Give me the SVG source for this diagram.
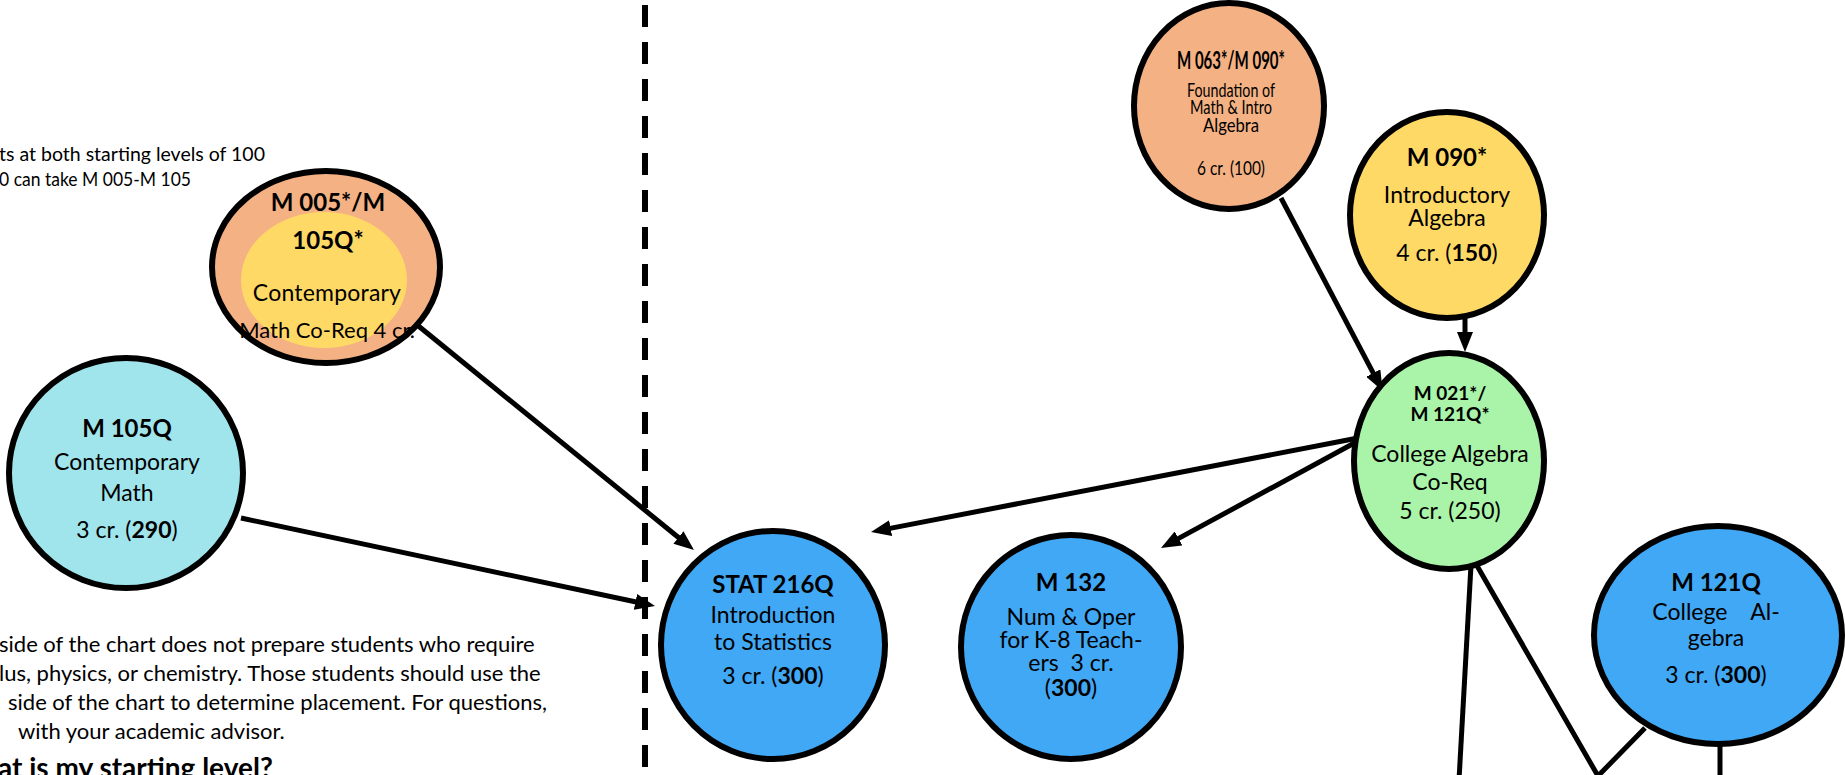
<svg xmlns="http://www.w3.org/2000/svg" width="1845" height="775" viewBox="0 0 1845 775">
<defs>
<style>
text{font-family:Lato,"Liberation Sans",sans-serif;fill:#000}
.node{stroke:#000;stroke-width:6}
.t{font-weight:bold;font-size:24px;text-anchor:middle}
.b{font-size:23px;text-anchor:middle}
.s{font-size:20px;text-anchor:middle}
.p{font-size:22px}
.conn{stroke:#000;stroke-width:5;fill:none}
.bold{font-weight:bold}
</style>
<marker id="ah" markerUnits="userSpaceOnUse" markerWidth="20" markerHeight="16" refX="2" refY="8" orient="auto">
<path d="M0,0 L20,8 L0,16 z" fill="#000"/>
</marker>
</defs>
<rect width="1845" height="775" fill="#fff"/>

<g id="notes">
<text class="p" x="265" y="161" text-anchor="end" style="font-size:18.5px" textLength="266" lengthAdjust="spacingAndGlyphs">ts at both starting levels of 100</text>
<text class="p" x="191" y="186" text-anchor="end" style="font-size:18.5px" textLength="192" lengthAdjust="spacingAndGlyphs">0 can take M 005-M 105</text>
<text class="p" x="-1" y="652">side of the chart does not prepare students who require</text>
<text class="p" x="-1" y="681">lus, physics, or chemistry. Those students should use the</text>
<text class="p" x="8" y="710">side of the chart to determine placement. For questions,</text>
<text class="p" x="18" y="739">with your academic advisor.</text>
<text class="p bold" x="-2" y="778" style="font-size:28px">at is my starting level?</text>
</g>

<line id="divider" x1="645" y1="0" x2="645" y2="775" stroke="#000" stroke-width="6" stroke-dasharray="22 15" stroke-dashoffset="32"/>

<g id="connectors">
<line class="conn" x1="416" y1="324" x2="680" y2="538.7" marker-end="url(#ah)"/>
<line class="conn" x1="241" y1="518" x2="637.4" y2="602.3" marker-end="url(#ah)"/>
<line class="conn" x1="1281" y1="198" x2="1374.2" y2="374.8" marker-end="url(#ah)"/>
<line class="conn" x1="1465" y1="316" x2="1465" y2="334" marker-end="url(#ah)"/>
<line class="conn" x1="1358" y1="438" x2="888.7" y2="528.6" marker-end="url(#ah)"/>
<line class="conn" x1="1358" y1="441" x2="1176.8" y2="539.4" marker-end="url(#ah)"/>
<line class="conn" x1="1471" y1="565" x2="1459" y2="780"/>
<polyline class="conn" points="1476,564 1598,776 1645,728"/>
<line class="conn" x1="1720" y1="743" x2="1720" y2="780"/>
</g>

<g id="n-m005">
<ellipse class="node" cx="326" cy="267" rx="114" ry="96" fill="#F4B183"/>
<ellipse cx="324" cy="280" rx="83" ry="68" fill="#FFD966"/>
<text class="t" x="328" y="211">M 005*/M</text>
<text class="t" x="328" y="249">105Q*</text>
<text class="b" x="327" y="301" letter-spacing="0.2">Contemporary</text>
<text class="b" x="327" y="338" style="font-size:22px">Math Co-Req 4 cr.</text>
</g>

<g id="n-m105q">
<ellipse class="node" cx="126" cy="473" rx="117" ry="115" fill="#A0E5EC"/>
<text class="t" x="127" y="437">M 105Q</text>
<text class="b" x="127" y="470">Contemporary</text>
<text class="b" x="127" y="501">Math</text>
<text class="b" x="127" y="538">3 cr. (<tspan class="bold">290</tspan>)</text>
</g>

<g id="n-stat216q">
<ellipse class="node" cx="773" cy="645" rx="112" ry="114" fill="#41A8F5"/>
<text class="t" x="773" y="593">STAT 216Q</text>
<text class="b" x="773" y="623">Introduction</text>
<text class="b" x="773" y="650">to Statistics</text>
<text class="b" x="773" y="684">3 cr. (<tspan class="bold">300</tspan>)</text>
</g>

<g id="n-m132">
<ellipse class="node" cx="1071" cy="647" rx="110" ry="112" fill="#41A8F5"/>
<text class="t" x="1071" y="591">M 132</text>
<text class="b" x="1071" y="625">Num &amp; Oper</text>
<text class="b" x="1071" y="648">for K-8 Teach-</text>
<text class="b" x="1071" y="671">ers&#160; 3 cr.</text>
<text class="b" x="1071" y="696">(<tspan class="bold">300</tspan>)</text>
</g>

<g id="n-m021">
<ellipse class="node" cx="1449" cy="461" rx="95" ry="108" fill="#AAF4AA"/>
<text class="t" x="1450" y="400" style="font-size:19px">M 021*/</text>
<text class="t" x="1450" y="421" style="font-size:19px">M 121Q*</text>
<text class="b" x="1450" y="462">College Algebra</text>
<text class="b" x="1450" y="490">Co-Req</text>
<text class="b" x="1450" y="519">5 cr. (250)</text>
</g>

<g id="n-m121q">
<ellipse class="node" cx="1718" cy="635" rx="124" ry="109" fill="#41A8F5"/>
<text class="t" x="1716" y="591">M 121Q</text>
<text class="b" x="1716" y="620">College&#160;&#160;&#160; Al-</text>
<text class="b" x="1716" y="646">gebra</text>
<text class="b" x="1716" y="683">3 cr. (<tspan class="bold">300</tspan>)</text>
</g>

<g id="n-m090">
<ellipse class="node" cx="1447" cy="215" rx="97" ry="103" fill="#FFD966"/>
<text class="t" x="1447" y="166">M 090*</text>
<text class="b" x="1447" y="203">Introductory</text>
<text class="b" x="1447" y="226">Algebra</text>
<text class="b" x="1447" y="261">4 cr. (<tspan class="bold">150</tspan>)</text>
</g>

<g id="n-m063">
<ellipse class="node" cx="1229" cy="106" rx="95" ry="103" fill="#F4B183"/>
<text class="t" x="1231" y="69" textLength="108" lengthAdjust="spacingAndGlyphs">M 063*/M 090*</text>
<text class="s" x="1231" y="97" textLength="88" lengthAdjust="spacingAndGlyphs">Foundation of</text>
<text class="s" x="1231" y="114" textLength="82" lengthAdjust="spacingAndGlyphs">Math &amp; Intro</text>
<text class="s" x="1231" y="132" textLength="56" lengthAdjust="spacingAndGlyphs">Algebra</text>
<text class="s" x="1231" y="175" textLength="68" lengthAdjust="spacingAndGlyphs">6 cr. (100)</text>
</g>
</svg>
